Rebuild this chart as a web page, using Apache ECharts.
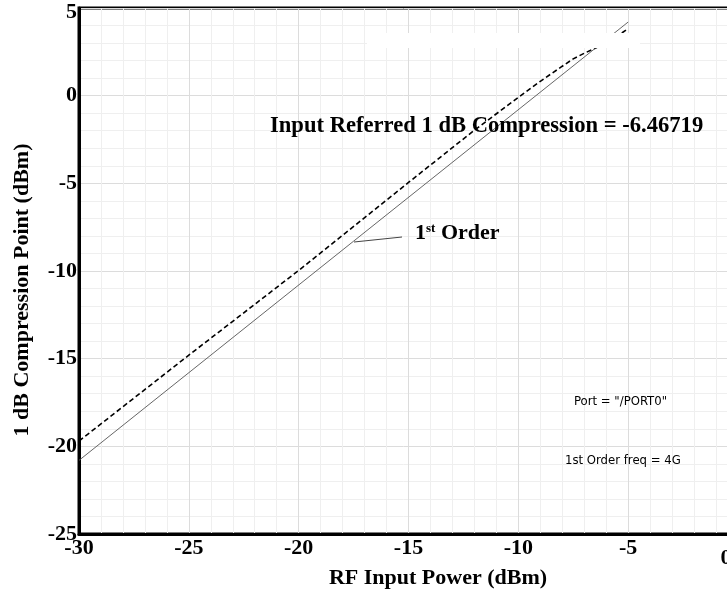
<!DOCTYPE html>
<html>
<head>
<meta charset="utf-8">
<script src="https://cdn.jsdelivr.net/npm/echarts@6/dist/echarts.min.js"></script>
<style>html,body{margin:0;padding:0;background:#fff}#c{width:727px;height:590px}</style>
</head>
<body>
<div id="c"></div>
<script>
// Data
const compIn  = [-30, -25, -20, -15, -12, -10, -9, -8, -7.5, -7, -6.5, -6, -5.5, -5];
const compOut = [-19.7, -14.8, -9.97, -4.95, -1.97, -0.1, 0.82, 1.68, 2.1, 2.42, 2.7, 3.05, 3.4, 3.82];
const firstIn  = [-30, -5];
const firstOut = [-20.8, 4.2];
const xTicks = [-30, -25, -20, -15, -10, -5, 0];
const yTicks = [5, 0, -5, -10, -15, -20, -25];
const annotTitle = 'Input Referred 1 dB Compression = -6.46719';
const portText = 'Port = "/PORT0"';
const freqText = '1st Order freq = 4G';

const serif = '"Liberation Serif", "Times New Roman", serif';
const cond = '"DejaVu Sans Condensed", "DejaVu Sans", sans-serif';

const chart = echarts.init(document.getElementById('c'), null, {renderer: 'canvas'});
chart.setOption({
  animation: false,
  backgroundColor: '#fff',
  grid: {left: 79, top: 8, width: 659, height: 526, containLabel: false, outerBoundsMode: 'none',
    show: true, borderColor: '#000', borderWidth: 3, backgroundColor: 'transparent'},
  xAxis: {
    type: 'value', min: xTicks[0], max: xTicks[xTicks.length - 1], interval: 5,
    axisLine: {show: true, onZero: false, lineStyle: {color: '#000', width: 3}},
    axisTick: {show: false},
    minorTick: {show: false, splitNumber: 5},
    splitLine: {show: true, lineStyle: {color: '#dcdcdc', width: 1}},
    minorSplitLine: {show: true, lineStyle: {color: '#efefef', width: 1}},
    axisLabel: {
      fontFamily: serif, fontWeight: 'bold', fontSize: 22, color: '#000', margin: 3,
      formatter: v => v === 0 ? '{z|0}' : String(v),
      rich: {z: {fontFamily: serif, fontWeight: 'bold', fontSize: 22, color: '#000', padding: [10, 24, 0, 0]}}
    }
  },
  yAxis: {
    type: 'value', min: yTicks[yTicks.length - 1], max: yTicks[0], interval: 5,
    axisLine: {show: true, onZero: false, lineStyle: {color: '#000', width: 3}},
    axisTick: {show: false},
    minorTick: {show: false, splitNumber: 5},
    splitLine: {show: true, lineStyle: {color: '#dcdcdc', width: 1}},
    minorSplitLine: {show: true, lineStyle: {color: '#efefef', width: 1}},
    axisLabel: {fontFamily: serif, fontWeight: 'bold', fontSize: 22, color: '#000', margin: 2,
      formatter: v => v === 5 ? '{t|5}' : String(v),
      rich: {t: {fontFamily: serif, fontWeight: 'bold', fontSize: 22, color: '#000', padding: [8, 0, 0, 0]}}
    }
  },
  series: [
    {
      type: 'line', name: 'compression', symbol: 'none', z: 3,
      data: compIn.map((x, i) => [x, compOut[i]]),
      lineStyle: {color: '#000', width: 1.6, type: [5, 3]}
    },
    {
      type: 'line', name: '1st Order', symbol: 'none', z: 3,
      data: firstIn.map((x, i) => [x, firstOut[i]]),
      lineStyle: {color: '#555', width: 0.9}
    }
  ],
  graphic: [
    {type: 'rect', z: 100, shape: {x: 367, y: 33, width: 273, height: 15}, style: {fill: '#fff'}},
    {type: 'text', z: 101, left: 270, top: 115, style: {text: annotTitle, font: 'bold 22.6px ' + serif, fill: '#000'}},
    {type: 'line', z: 101, shape: {x1: 354, y1: 242, x2: 402, y2: 237}, style: {stroke: '#444', lineWidth: 1}},
    {type: 'text', z: 101, left: 415, top: 222, style: {
      text: '{a|1}{s|st}{a| Order}',
      rich: {
        a: {font: 'bold 22px ' + serif, fill: '#000', verticalAlign: 'bottom'},
        s: {font: 'bold 13px ' + serif, fill: '#000', verticalAlign: 'top'}
      }
    }},
    {type: 'text', z: 101, left: 574, top: 395, style: {text: portText, font: '13px ' + cond, fill: '#000'}},
    {type: 'text', z: 101, left: 565, top: 454, style: {text: freqText, font: '13px ' + cond, fill: '#000'}},
    {type: 'text', z: 101, x: 438, y: 578, style: {text: 'RF Input Power (dBm)', font: 'bold 22px ' + serif, fill: '#000', align: 'center', verticalAlign: 'middle'}},
    {type: 'text', z: 101, x: 22, y: 290, rotation: Math.PI / 2, style: {text: '1 dB Compression Point (dBm)', font: 'bold 22px ' + serif, fill: '#000', align: 'center', verticalAlign: 'middle'}}
  ]
});
</script>
</body>
</html>
